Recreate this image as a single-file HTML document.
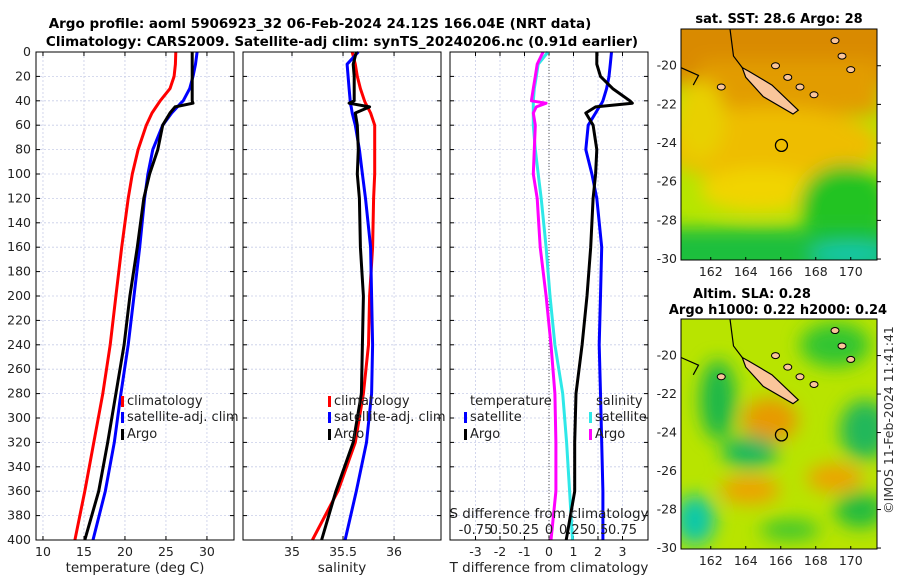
<!DOCTYPE html>
<html><head><meta charset="utf-8"><style>
body{margin:0;background:#fff;font-family:"Liberation Sans","DejaVu Sans",sans-serif}
svg text{font-family:"DejaVu Sans","Liberation Sans",sans-serif}
</style></head><body>
<svg id="c" width="900" height="580" xmlns="http://www.w3.org/2000/svg">
<defs>
<filter id="bl" x="-20%" y="-20%" width="140%" height="140%"><feGaussianBlur stdDeviation="9"/></filter>
<clipPath id="cm1"><rect x="681" y="29" width="196" height="231"/></clipPath>
<clipPath id="cm2"><rect x="681" y="319" width="196" height="230"/></clipPath>
</defs>
<text x="320" y="28" text-anchor="middle" font-size="13.5" font-weight="bold">Argo profile: aoml 5906923_32 06-Feb-2024 24.12S 166.04E (NRT data)</text>
<text x="342" y="46" text-anchor="middle" font-size="13.5" font-weight="bold">Climatology: CARS2009. Satellite-adj clim: synTS_20240206.nc (0.91d earlier)</text>
<g id="plots"></g>
<g>
<text x="779" y="23" text-anchor="middle" font-size="13" font-weight="bold">sat. SST: 28.6 Argo: 28</text>
<g clip-path="url(#cm1)">
<rect x="681" y="29" width="196" height="231" fill="#b5e600"/>
<g filter="url(#bl)">
<rect x="660" y="10" width="240" height="75" fill="#d98a00"/>
<rect x="700" y="60" width="180" height="55" fill="#e29c00"/>
<ellipse cx="770" cy="145" rx="110" ry="38" fill="#eebd00"/>
<ellipse cx="700" cy="120" rx="25" ry="40" fill="#e8d000"/>
<ellipse cx="760" cy="190" rx="60" ry="22" fill="#f1d400"/>
<ellipse cx="845" cy="205" rx="45" ry="40" fill="#22c320"/>
<rect x="660" y="228" width="260" height="50" fill="#1dbf3e"/>
<ellipse cx="850" cy="254" rx="40" ry="10" fill="#16c8b0"/>
</g></g>
<rect x="681" y="29" width="196" height="231" fill="none" stroke="#000"/>
</g>
<g>
<text x="752" y="298" text-anchor="middle" font-size="13" font-weight="bold">Altim. SLA: 0.28</text>
<text x="778" y="314" text-anchor="middle" font-size="13" font-weight="bold">Argo h1000: 0.22 h2000: 0.24</text>
<g clip-path="url(#cm2)">
<rect x="681" y="319" width="196" height="230" fill="#b8e400"/>
<g filter="url(#bl)">
<ellipse cx="835" cy="345" rx="35" ry="22" fill="#30c530"/>
<ellipse cx="718" cy="400" rx="18" ry="40" fill="#1db84a"/>
<ellipse cx="770" cy="420" rx="28" ry="22" fill="#e89a00"/>
<ellipse cx="750" cy="452" rx="28" ry="16" fill="#19b860"/>
<ellipse cx="865" cy="430" rx="25" ry="30" fill="#20b85a"/>
<ellipse cx="750" cy="490" rx="30" ry="14" fill="#eea200"/>
<ellipse cx="835" cy="478" rx="28" ry="14" fill="#eea200"/>
<ellipse cx="695" cy="520" rx="20" ry="25" fill="#10c8a8"/>
<ellipse cx="860" cy="510" rx="25" ry="18" fill="#22bb40"/>
<ellipse cx="790" cy="530" rx="30" ry="10" fill="#38c530"/>
</g></g>
<rect x="681" y="319" width="196" height="230" fill="none" stroke="#000"/>
</g>
<text transform="translate(893,420) rotate(-90)" text-anchor="middle" font-size="12.5" fill="#333">©IMOS 11-Feb-2024 11:41:41</text>
</svg>
<script>
const depths=[0,10,20,30,40,42,45,50,60,80,100,120,160,200,240,280,320,360,400];
const climT=[26.2,26.15,26.0,25.5,24.3,24.1,23.8,23.3,22.6,21.6,20.9,20.4,19.6,18.9,18.2,17.3,16.2,15.1,13.9];
const satT=[28.8,28.6,28.3,27.9,27.1,26.8,26.4,25.7,24.6,23.4,22.8,22.4,21.8,21.1,20.4,19.5,18.7,17.6,16.1];
const argoT=[28.2,28.2,28.2,28.2,28.2,28.3,26.1,25.5,24.6,24.0,23.0,22.3,21.5,20.6,19.9,18.9,17.9,16.8,15.1];
const climS=[35.59,35.62,35.64,35.67,35.71,35.72,35.74,35.77,35.81,35.81,35.81,35.80,35.79,35.76,35.75,35.70,35.62,35.45,35.2];
const satS=[35.65,35.54,35.55,35.56,35.57,35.57,35.58,35.59,35.62,35.66,35.69,35.72,35.77,35.78,35.79,35.78,35.73,35.63,35.52];
const argoS=[35.63,35.6,35.61,35.61,35.61,35.56,35.76,35.62,35.64,35.65,35.64,35.66,35.67,35.7,35.69,35.68,35.6,35.43,35.29];
const satTd=[2.55,2.5,2.45,2.35,2.2,2.15,2.05,1.9,1.6,1.5,1.75,1.95,2.15,2.1,2.05,2.1,2.15,2.2,2.2];
const argoTd=[1.95,1.95,2.1,2.6,3.3,3.4,1.9,1.5,1.8,1.95,1.9,1.8,1.7,1.55,1.35,1.1,1.05,1.05,0.7];
const satSd=[-0.01,-0.11,-0.13,-0.15,-0.16,-0.16,-0.16,-0.16,-0.16,-0.14,-0.11,-0.08,-0.03,0.01,0.06,0.14,0.18,0.21,0.24];
const argoSd=[-0.06,-0.12,-0.14,-0.16,-0.18,-0.03,-0.13,-0.16,-0.14,-0.15,-0.16,-0.12,-0.09,-0.03,0.02,0.06,0.07,0.07,0.02];
const yTicks=[0,20,40,60,80,100,120,140,160,180,200,220,240,260,280,300,320,340,360,380,400];
const tTicks=[10,15,20,25,30], sTicks=[35,35.5,36], dTicks=[-3,-2,-1,0,1,2,3];
const sdTickLabels=["-0.75","0.5","0.25","0","0.25","0.5","0.75"];

const NS="http://www.w3.org/2000/svg";
const g=document.getElementById('plots');
const T=52,B=540;
const y=d=>T+(d/400)*(B-T);
function mk(tag,a,p){const e=document.createElementNS(NS,tag);for(const k in a)e.setAttribute(k,a[k]);(p||g).appendChild(e);return e;}
function txt(x,yy,s,a,p){const e=mk('text',Object.assign({x:x,y:yy,'font-size':12.5,fill:'#222'},a||{}),p);e.textContent=s;return e;}
const panels=[
 {x0:36,x1:234,lo:9.15,hi:33.3,ticks:tTicks,label:'temperature (deg C)',name:'temperature-panel'},
 {x0:243,x1:441,lo:34.52,hi:36.46,ticks:sTicks,label:'salinity',name:'salinity-panel'},
 {x0:450,x1:648,lo:-4.04,hi:4.04,ticks:dTicks,label:'T difference from climatology',name:'difference-panel'}];
const sx=panels.map(p=>v=>p.x0+(v-p.lo)/(p.hi-p.lo)*(p.x1-p.x0));
panels.forEach((p,i)=>{
 const pg=mk('g',{});
 
 
 yTicks.forEach(d=>{mk('line',{x1:p.x0,x2:p.x1,y1:y(d),y2:y(d),stroke:'#c8cde8','stroke-width':0.8,'stroke-dasharray':'2,2'},pg);
  mk('line',{x1:p.x0,x2:p.x0+4,y1:y(d),y2:y(d),stroke:'#000'},pg);mk('line',{x1:p.x1,x2:p.x1-4,y1:y(d),y2:y(d),stroke:'#000'},pg);
  if(i==0){const t=txt(31,y(d)+4,String(d),{'text-anchor':'end'},pg);}});
 p.ticks.forEach(v=>{const X=sx[i](v);mk('line',{x1:X,x2:X,y1:T,y2:B,stroke:'#c8cde8','stroke-width':0.8,'stroke-dasharray':'2,2'},pg);
  mk('line',{x1:X,x2:X,y1:B,y2:B-4,stroke:'#000'},pg);mk('line',{x1:X,x2:X,y1:T,y2:T+4,stroke:'#000'},pg);
  const t=txt(X,556,String(v),{'text-anchor':'middle'},pg);});
 const l=txt((p.x0+p.x1)/2,572,p.label,{'text-anchor':'middle','font-size':13.5},pg);
 
});
const sd=v=>sx[2](v*4);
mk('line',{x1:sd(0),x2:sd(0),y1:T,y2:B,stroke:'#555','stroke-dasharray':'1,2'});
function line(vals,f,col,name){const d=vals.map((v,k)=>(k?'L':'M')+f(v).toFixed(1)+','+y(depths[k]).toFixed(1)).join('');
 const e=mk('path',{d:d,fill:'none',stroke:col,'stroke-width':3,'stroke-linejoin':'round'});
 }
line(climT,sx[0],'#f00','climatology-temperature-line');
line(satT,sx[0],'#00f','satellite-temperature-line');
line(argoT,sx[0],'#000','argo-temperature-line');
line(climS,sx[1],'#f00','climatology-salinity-line');
line(satS,sx[1],'#00f','satellite-salinity-line');
line(argoS,sx[1],'#000','argo-salinity-line');
line(satSd,sd,'#2ee8e8','satellite-salinity-diff-line');
line(argoSd,sd,'#f0f','argo-salinity-diff-line');
line(satTd,sx[2],'#00f','satellite-temperature-diff-line');
line(argoTd,sx[2],'#000','argo-temperature-diff-line');
panels.forEach(p=>mk('rect',{x:p.x0,y:T,width:p.x1-p.x0,height:B-T,fill:'none',stroke:'#000','stroke-width':1}));
function leg(x,yy,col,s,name){mk('rect',{x:x,y:yy-9,width:3,height:11,fill:col});const t=txt(x+6,yy,s,{'font-size':13});}
[[121,'temperature-legend'],[328,'salinity-legend']].forEach(([x,n])=>{
 leg(x,405,'#f00','climatology',n+'-climatology');leg(x,421,'#00f','satellite-adj. clim',n+'-satellite');leg(x,438,'#000','Argo',n+'-argo');});
txt(470,405,'temperature',{'font-size':13});txt(596,405,'salinity',{'font-size':13});
leg(464,421,'#00f','satellite','diff-legend-t-satellite');leg(464,438,'#000','Argo','diff-legend-t-argo');
leg(589,421,'#2ee8e8','satellite','diff-legend-s-satellite');leg(589,438,'#f0f','Argo','diff-legend-s-argo');
txt(549,518,'S difference from climatology',{'text-anchor':'middle','font-size':13.5});
[-0.75,-0.5,-0.25,0,0.25,0.5,0.75].forEach((v,k)=>{const t=txt(sd(v),534,sdTickLabels[k],{'text-anchor':'middle','font-size':13});});
// maps
const svg=document.getElementById('c');
const lonTicks=[162,164,166,168,170], latTicks=[-20,-22,-24,-26,-28,-30];
const maps=[{y0:29,y1:260,top:-18.1},{y0:319,y1:549,top:-18.1}];
const lx=lon=>681+(lon-160.3)*17.5;
maps.forEach(m=>{const ly=lat=>m.y0+(m.top-lat)*(m.y1-m.y0)/(m.top+30.05);
 lonTicks.forEach(v=>{mk('line',{x1:lx(v),x2:lx(v),y1:m.y1,y2:m.y1-3,stroke:'#000'},svg);const t=txt(lx(v),m.y1+16,String(v),{'text-anchor':'middle'},svg);});
 latTicks.forEach(v=>{mk('line',{x1:877,x2:881,y1:ly(v),y2:ly(v),stroke:'#000'},svg);const t=txt(677,ly(v)+4,String(v),{'text-anchor':'end'},svg);});
 const isl=mk('path',{d:`M${lx(163.8)},${ly(-20.1)} L${lx(164.2)},${ly(-20.3)} L${lx(165.5)},${ly(-21)} L${lx(167)},${ly(-22.3)} L${lx(166.7)},${ly(-22.5)} L${lx(165)},${ly(-21.6)} L${lx(164)},${ly(-20.6)} Z`,fill:'#fac59a',stroke:'#000','stroke-width':1.2},svg);
 
 mk('path',{d:`M${lx(163.1)},${m.y0} L${lx(163.3)},${ly(-19.5)} L${lx(163.8)},${ly(-20.1)} M${lx(160.3)},${ly(-20.1)} L${lx(161.3)},${ly(-20.5)} L${lx(161)},${ly(-21)}`,fill:'none',stroke:'#000','stroke-width':1.2},svg);
 [[165.7,-20],[166.4,-20.6],[167.1,-21.1],[167.9,-21.5],[169.1,-18.7],[169.5,-19.5],[170,-20.2],[162.6,-21.1]].forEach(([a,b])=>mk('ellipse',{cx:lx(a),cy:ly(b),rx:4,ry:3,fill:'#fac59a',stroke:'#000'},svg));
 const c=mk('circle',{cx:lx(166.04),cy:ly(-24.12),r:6,fill:'none',stroke:'#000','stroke-width':1.3},svg);
 
});
</script>
</body></html>
